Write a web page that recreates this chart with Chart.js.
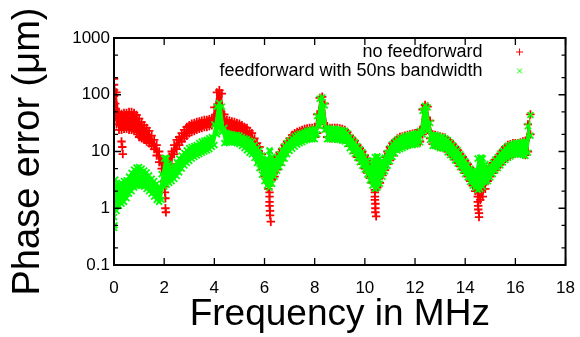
<!DOCTYPE html>
<html>
<head>
<meta charset="utf-8">
<script src="https://cdn.jsdelivr.net/npm/chart.js@4.4.0/dist/chart.umd.min.js"></script>
<style>
  html, body { margin: 0; padding: 0; background: #fff; }
  #wrap { width: 580px; height: 337px; }
</style>
</head>
<body>
<div id="wrap"><canvas id="phaseChart" width="580" height="337"></canvas></div>
<script>
// frequency grid (MHz) that the band edges were read at
var freq = [
  0, 0.1, 0.2, 0.3, 0.4, 0.5, 0.6, 0.7, 0.8, 0.9,
  1, 1.1, 1.2, 1.3, 1.4, 1.5, 1.6, 1.7, 1.8, 1.9,
  2, 2.1, 2.2, 2.3, 2.4, 2.5, 2.6, 2.7, 2.8, 2.9,
  3, 3.1, 3.2, 3.3, 3.4, 3.5, 3.6, 3.7, 3.8, 3.9,
  4, 4.1, 4.2, 4.3, 4.4, 4.5, 4.6, 4.7, 4.8, 4.9,
  5, 5.1, 5.2, 5.3, 5.4, 5.5, 5.6, 5.7, 5.8, 5.9,
  6, 6.1, 6.2, 6.3, 6.4, 6.5, 6.6, 6.7, 6.8, 6.9,
  7, 7.1, 7.2, 7.3, 7.4, 7.5, 7.6, 7.7, 7.8, 7.9,
  8, 8.1, 8.2, 8.3, 8.4, 8.5, 8.6, 8.7, 8.8, 8.9,
  9, 9.1, 9.2, 9.3, 9.4, 9.5, 9.6, 9.7, 9.8, 9.9,
  10, 10.1, 10.2, 10.3, 10.4, 10.5, 10.6, 10.7, 10.8, 10.9,
  11, 11.1, 11.2, 11.3, 11.4, 11.5, 11.6, 11.7, 11.8, 11.9,
  12, 12.1, 12.2, 12.3, 12.4, 12.5, 12.6, 12.7, 12.8, 12.9,
  13, 13.1, 13.2, 13.3, 13.4, 13.5, 13.6, 13.7, 13.8, 13.9,
  14, 14.1, 14.2, 14.3, 14.4, 14.5, 14.6, 14.7, 14.8, 14.9,
  15, 15.1, 15.2, 15.3, 15.4, 15.5, 15.6, 15.7, 15.8, 15.9,
  16, 16.1, 16.2, 16.3, 16.4, 16.5, 16.6
];

// no feedforward: upper and lower edge of the red band (um)
var redHi = [
  190, 110, 50, 46, 48, 48, 50, 50, 48, 44,
  38, 33, 29, 26, 23, 19, 16, 13, 10, 7.5,
  6.5, 6, 8, 10, 13, 16, 18, 21, 24, 27,
  29, 31, 32, 33, 34, 35, 36, 36, 37, 39,
  60, 110, 120, 105, 45, 36, 35, 34, 33, 32,
  31, 29, 27, 26, 23, 21, 17, 14, 12, 9,
  7, 5, 4, 5, 6.3, 8, 9.6, 11, 13, 15,
  17, 19.5, 21, 22, 23, 24, 25, 25.5, 26, 26,
  27, 45, 88, 92, 70, 28, 26, 26, 26, 26,
  25.5, 25, 24, 22, 19, 17, 15.5, 13, 11.5, 10,
  8.5, 7.5, 6, 4.5, 3.4, 3.2, 4.2, 6, 8, 10,
  12, 14, 15.5, 17, 18, 18.5, 19, 19.5, 20, 20.5,
  21, 21, 24, 55, 66, 62, 35, 20, 19.5, 19,
  18.5, 18, 17.5, 16, 15, 13.5, 12, 10.6, 9.2, 8,
  7, 6, 5.2, 4.5, 3.5, 2.6, 2.4, 2.6, 3.5, 4.7,
  5.5, 6.3, 7.2, 8, 9.2, 10.5, 12, 13, 13.5, 14,
  14, 14, 14.5, 15, 15.5, 30, 45
];
var redLo = [
  40, 30, 24, 24, 25, 25, 24, 24, 23, 22,
  18, 17, 16, 15, 14, 12.5, 11, 8.5, 6.5, 5,
  4, 4, 5, 6, 9, 11, 13, 15, 17, 19,
  21, 22, 23, 24, 25, 26, 27, 27, 28, 29,
  32, 45, 50, 45, 28, 26, 25, 24, 23, 22,
  21, 19, 17, 16, 14, 12, 10, 8, 6.3, 4.8,
  3.6, 3, 2.5, 3.2, 3.6, 4.8, 5.8, 7, 8.8, 10.5,
  12, 13, 14, 15, 16, 17, 17, 17.5, 18, 18,
  18, 21, 30, 35, 26, 18, 17, 17, 17, 17,
  17, 16.5, 16, 14.5, 12.5, 11, 9.5, 8, 7, 6,
  5, 4.2, 3.4, 2.8, 2.1, 2.3, 2.8, 3.8, 4.7, 6,
  7, 8.5, 10, 11.5, 12, 12.5, 13, 13, 13.5, 14,
  14, 14, 15, 20, 25, 24, 17, 13.5, 13, 12.5,
  12, 12, 11.5, 10, 9, 8.3, 7.2, 6.3, 5.5, 4.8,
  4.2, 3.6, 3, 2.5, 2, 1.6, 1.4, 1.6, 2.2, 3,
  3.6, 4.2, 4.8, 5.3, 5.9, 6.7, 7.4, 8, 8.5, 9,
  9.2, 9.4, 9.4, 9, 8.7, 10, 20
];
// isolated red points [MHz, um]
var redExtra = [
  [0, 150], [0, 120], [0, 95], [0.05, 70], [0.3, 15], [0.33, 12], [0.35, 9],
  [1.0, 20], [1.1, 19], [2.0, 3], [2.02, 2.4], [2.03, 1.9], [2.05, 1.5],
  [2.05, 1.0], [2.07, 0.85], [6.15, 2.2], [6.2, 1.9], [6.2, 1.6], [6.2, 1.3],
  [6.2, 1.1], [6.22, 0.9], [6.22, 0.75], [6.25, 0.58], [10.4, 1.9], [10.4, 1.6],
  [10.4, 1.4], [10.42, 1.2], [10.42, 1.0], [10.42, 0.85], [10.45, 0.72],
  [14.5, 1.3], [14.52, 1.1], [14.52, 0.95], [14.55, 0.82], [14.55, 0.7]
];

// feedforward with 50ns bandwidth: upper and lower edge of the green band (um)
var grnHi = [
  2.8, 2.6, 2.6, 2.8, 3, 3.1, 3.6, 4.2, 4.8, 5.2,
  5.3, 5, 4.6, 4.3, 3.8, 3.3, 3, 2.7, 2.3, 4,
  7.5, 7.5, 6, 4.8, 5.5, 6.5, 7.5, 8.5, 9.5, 10.5,
  11.5, 12, 12.5, 13, 14, 15, 15.5, 16, 17, 18,
  30, 62, 71, 62, 26, 21, 20.5, 20, 19.5, 19.5,
  19, 18, 17, 16.5, 15.5, 15, 13, 11.5, 10.5, 8.5,
  7, 7.5, 10.5, 8, 7, 8, 9, 10.5, 12.5, 14,
  15.5, 17, 18.5, 19.5, 20.5, 21, 22, 23, 23.5, 24,
  25, 42, 85, 90, 65, 26, 25, 25, 25, 24.5,
  24, 23.5, 23, 21, 18, 16, 14.5, 12.5, 11, 9.8,
  8, 7, 5.5, 7, 8, 8, 7.5, 6.5, 7.8, 9.5,
  11.5, 13.5, 15, 16, 17, 17.5, 18.5, 19, 19.5, 20,
  20.5, 21, 23, 52, 64, 60, 32, 19.5, 19.5, 19,
  18, 18, 17, 16, 14.5, 13, 11.5, 10.5, 9, 7.8,
  6.8, 5.8, 5, 4.5, 4.5, 7.5, 7.7, 7.5, 6, 4.8,
  5.6, 6.4, 7.2, 8, 9.2, 10.3, 11.5, 12.5, 13, 13.5,
  14, 14, 14.5, 14.5, 15, 28, 44
];
var grnLo = [
  0.7, 0.9, 1.1, 1.2, 1.3, 1.5, 1.8, 2.0, 2.3, 2.5,
  2.5, 2.5, 2.4, 2.2, 2.0, 1.8, 1.6, 1.4, 1.3, 1.4,
  2.4, 2.6, 2.8, 3.0, 3.3, 3.7, 4.3, 5.0, 5.7, 6.3,
  6.8, 7.5, 8.0, 8.5, 9.0, 9.5, 10, 10.5, 11, 12,
  13, 20, 26, 22, 14, 14.5, 14.5, 14.5, 14.5, 14,
  13.5, 12.5, 11.5, 10.5, 9.5, 9, 7.7, 6.3, 5.1, 3.9,
  3.0, 2.5, 2.3, 2.7, 3.6, 4.6, 5.3, 6.3, 7.5, 9,
  10.2, 11.2, 12.2, 13.2, 14, 14.6, 15.5, 16, 16.5, 16.5,
  16.5, 20, 28, 34, 24, 16.5, 16.5, 16.5, 16.5, 16,
  16, 15.5, 15, 13.5, 11.5, 10, 9, 7.7, 6.5, 5.6,
  4.8, 3.9, 3.1, 2.5, 2.2, 2.3, 2.7, 3.6, 4.5, 5.6,
  6.7, 8, 9.2, 10.5, 11, 11.5, 12, 12.5, 13, 13,
  13.5, 13.5, 14.5, 20, 25, 23, 16, 12.5, 12.5, 12,
  11.5, 11.3, 11, 9.6, 8.6, 7.9, 7, 6.1, 5.3, 4.6,
  4.0, 3.5, 2.9, 2.5, 2.3, 2.1, 2.2, 2.4, 2.9, 3.0,
  3.5, 4.0, 4.6, 5.1, 5.7, 6.4, 7.1, 7.7, 8.2, 8.7,
  8.9, 9.1, 8.9, 8.7, 8.4, 9.5, 19
];
// isolated green points [MHz, um]
var grnExtra = [
  [0, 0.45], [0.02, 0.5], [0.05, 3.2], [2.05, 7.7], [6.22, 10], [10.5, 8.2], [14.65, 7.8]
];

var seriesNames = ['no feedforward', 'feedforward with 50ns bandwidth'];
var xTicks = [0, 2, 4, 6, 8, 10, 12, 14, 16, 18];
var yMajor = [0.1, 1, 10, 100, 1000];
var yLabels = ['0.1', '1', '10', '100', '1000'];
var yMinor = [0.2, 0.5, 2, 5, 20, 50, 200, 500];

var RED = '#ff0000';
var GREEN = '#00ff00';

function toPoints(ys) {
    return freq.map(function (f, i) { return { x: f, y: ys[i] }; });
}
function fromPairs(list) {
    return list.map(function (p) { return { x: p[0], y: p[1] }; });
}

// lower edge, upper edge filled down to it, then the loose points
function bandSets(lo, hi, extra, color, style, order) {
    var marker = {
        pointStyle: style,
        pointRadius: 4.2,
        pointBorderWidth: 1.8,
        pointBorderColor: color,
        pointBackgroundColor: color,
        borderColor: 'rgba(0,0,0,0)',
        borderWidth: 0,
        order: order
    };
    return [
        Object.assign({ data: toPoints(lo), fill: false }, marker),
        Object.assign({ data: toPoints(hi), fill: '-1', backgroundColor: color }, marker),
        Object.assign({ data: fromPairs(extra), showLine: false, fill: false }, marker)
    ];
}

// inward ticks on all four sides plus the box
var framePlugin = {
    id: 'frame',
    afterDatasetsDraw: function (chart) {
        var a = chart.chartArea, ctx = chart.ctx;
        var xs = chart.scales.x, ys = chart.scales.y;
        ctx.save();
        ctx.strokeStyle = '#000';
        ctx.lineWidth = 1.3;
        ctx.beginPath();
        xTicks.forEach(function (v) {
            var px = xs.getPixelForValue(v);
            ctx.moveTo(px, a.bottom); ctx.lineTo(px, a.bottom - 7);
            ctx.moveTo(px, a.top); ctx.lineTo(px, a.top + 7);
        });
        yMajor.forEach(function (v) {
            var py = ys.getPixelForValue(v);
            ctx.moveTo(a.left, py); ctx.lineTo(a.left + 7, py);
            ctx.moveTo(a.right, py); ctx.lineTo(a.right - 7, py);
        });
        yMinor.forEach(function (v) {
            var py = ys.getPixelForValue(v);
            ctx.moveTo(a.left, py); ctx.lineTo(a.left + 4, py);
            ctx.moveTo(a.right, py); ctx.lineTo(a.right - 4, py);
        });
        ctx.stroke();
        ctx.lineWidth = 2;
        ctx.strokeRect(a.left, a.top, a.right - a.left, a.bottom - a.top);
        ctx.restore();
    }
};

// gnuplot style key: text right aligned, symbol after it
var keyPlugin = {
    id: 'key',
    afterDraw: function (chart) {
        var a = chart.chartArea, ctx = chart.ctx;
        var styles = ['cross', 'crossRot'];
        var colors = [RED, GREEN];
        ctx.save();
        ctx.font = '18px "Liberation Sans", Arial, sans-serif';
        ctx.textAlign = 'right';
        ctx.textBaseline = 'middle';
        seriesNames.forEach(function (name, i) {
            var y = a.top + 14 + i * 19;
            ctx.fillStyle = '#000';
            ctx.fillText(name, a.right - 83, y);
            ctx.strokeStyle = colors[i];
            ctx.fillStyle = colors[i];
            Chart.helpers.drawPoint(ctx, { pointStyle: styles[i], radius: 3.5, borderWidth: 1.4, rotation: 0 }, a.right - 46, y);
        });
        ctx.restore();
    }
};

Chart.defaults.font.family = '"Liberation Sans", Arial, sans-serif';
Chart.defaults.color = '#000';

var ctx = document.getElementById('phaseChart').getContext('2d');
var datasets = bandSets(grnLo, grnHi, grnExtra, GREEN, 'crossRot', 1)
    .concat(bandSets(redLo, redHi, redExtra, RED, 'cross', 2));

var phaseChart = new Chart(ctx, {
    type: 'line',
    data: { datasets: datasets },
    options: {
        responsive: false,
        animation: false,
        layout: { padding: { top: 38, right: 1, left: 0, bottom: 0 } },
        elements: { line: { tension: 0 } },
        plugins: {
            legend: { display: false },
            tooltip: { enabled: false },
            filler: { propagate: false }
        },
        scales: {
            x: {
                type: 'linear',
                min: 0,
                max: 18,
                afterBuildTicks: function (s) { s.ticks = xTicks.map(function (v) { return { value: v }; }); },
                afterFit: function (s) { s.height = 72; },
                grid: { display: false },
                border: { display: false },
                ticks: { font: { size: 17 }, color: '#000', padding: 5, maxRotation: 0, autoSkip: false },
                title: { display: true, text: 'Frequency in MHz', font: { size: 37 }, color: '#000', padding: 0 }
            },
            y: {
                type: 'logarithmic',
                min: 0.1,
                max: 1000,
                afterBuildTicks: function (s) {
                    s.ticks = yMajor.concat(yMinor).sort(function (p, q) { return p - q; })
                        .map(function (v) { return { value: v }; });
                },
                afterFit: function (s) { s.width = 114; },
                grid: { display: false, drawTicks: false },
                border: { display: false },
                ticks: {
                    font: { size: 17 },
                    color: '#000',
                    padding: 4,
                    autoSkip: false,
                    callback: function (v) {
                        var k = yMajor.indexOf(v);
                        return k >= 0 ? yLabels[k] : '';
                    }
                },
                title: { display: true, text: 'Phase error (μm)', font: { size: 38 }, color: '#000', padding: { top: 6, bottom: 0 } }
            }
        }
    },
    plugins: [framePlugin, keyPlugin]
});
</script>
</body>
</html>
